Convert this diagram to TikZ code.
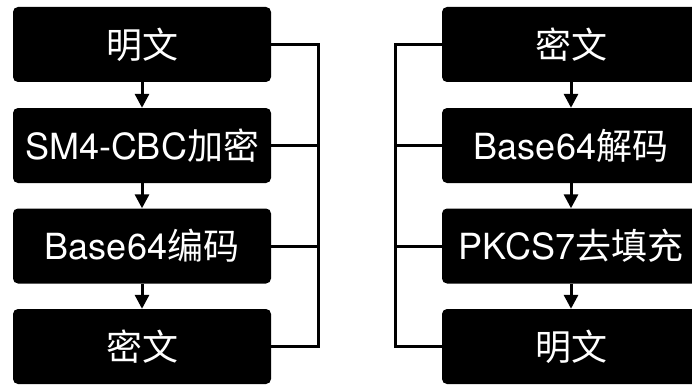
\documentclass[tikz,border=0pt]{standalone}
\usepackage{fontspec}
\setmainfont{TeX Gyre Heros}
\newfontfamily\cjk{Noto Sans CJK SC}
\usetikzlibrary{arrows.meta}
\begin{document}
\begin{tikzpicture}[x=1pt,y=-1pt,
  blk/.style={fill=black,rounded corners=5pt,minimum width=258pt,minimum height=75pt,
    inner sep=0pt,text=white,font=\fontsize{36}{40}\selectfont},
  flow/.style={line width=3pt,-{Triangle[width=14pt,length=14pt]}},
  link/.style={line width=3pt}]
\useasboundingbox (0,0) rectangle (692,385);
\clip (0,0) rectangle (692,385);
% left column
\node[blk] (l1) at (142,44.5) {\cjk 明文};
\node[blk] (l2) at (142,145.5) {SM4-CBC{\cjk 加密}};
\node[blk] (l3) at (142,246) {Base64{\cjk 编码}};
\node[blk] (l4) at (142,346.5) {\cjk 密文};
% right column
\node[blk] (r1) at (571,44.5) {\cjk 密文};
\node[blk] (r2) at (571,145.5) {Base64{\cjk 解码}};
\node[blk] (r3) at (571,246) {PKCS7{\cjk 去填充}};
\node[blk] (r4) at (571,346.5) {\cjk 明文};
% arrows
\draw[flow] (l1) -- (l2);
\draw[flow] (l2) -- (l3);
\draw[flow] (l3) -- (l4);
\draw[flow] (r1) -- (r2);
\draw[flow] (r2) -- (r3);
\draw[flow] (r3) -- (r4);
% brackets
\coordinate (lb1) at (318,44.5);
\coordinate (lb4) at (318,346.5);
\draw[link] (l1.east) -- (lb1) -- (lb4) -- (l4.east);
\draw[link] (l2.east) -- (l2.east -| lb1);
\draw[link] (l3.east) -- (l3.east -| lb1);
\coordinate (rb1) at (395,44.5);
\coordinate (rb4) at (395,346.5);
\draw[link] (r1.west) -- (rb1) -- (rb4) -- (r4.west);
\draw[link] (r2.west) -- (r2.west -| rb1);
\draw[link] (r3.west) -- (r3.west -| rb1);
\end{tikzpicture}
\end{document}
